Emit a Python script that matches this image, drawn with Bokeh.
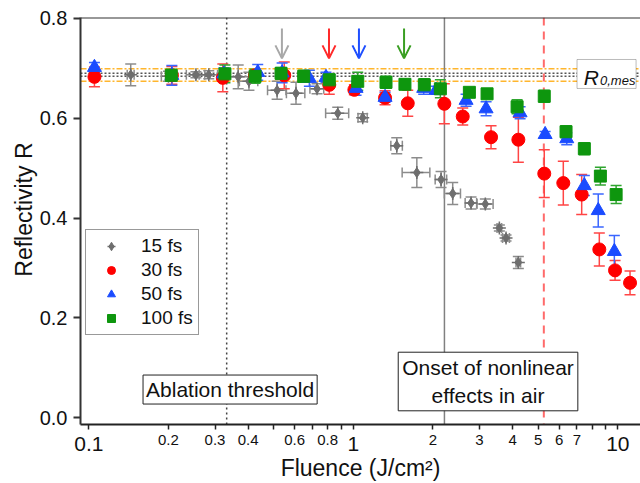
import math
from bokeh.plotting import figure
from bokeh.models import (Range1d, FixedTicker, Whisker, TeeHead, ColumnDataSource, Span,
                          Label, Arrow, OpenHead, Legend, LegendItem, BoxAnnotation,
                          PrintfTickFormatter, LogAxis, Title)
from bokeh.embed import file_html
from bokeh.resources import INLINE

FONT = "Liberation Sans"

# ---- data: fluence (J/cm^2), reflectivity and uncertainties ----
fs15_F = [0.144, 0.20, 0.254, 0.284, 0.367, 0.403, 0.515, 0.607, 0.729, 0.873, 1.085,
          1.459, 1.738, 2.146, 2.375, 2.786, 3.155, 3.565, 3.778, 4.205]
fs15_R = [0.687, 0.684, 0.687, 0.687, 0.683, 0.674, 0.656, 0.650, 0.659, 0.610, 0.601,
          0.545, 0.491, 0.477, 0.449, 0.430, 0.428, 0.380, 0.360, 0.311]
fs15_dR = [0.022, 0.010, 0.006, 0.008, 0.024, 0.018, 0.018, 0.022, 0.010, 0.012, 0.008,
           0.016, 0.030, 0.016, 0.022, 0.012, 0.010, 0.006, 0.006, 0.012]
fs15_dF_rel = [0.03, 0.06, 0.08, 0.08, 0.10, 0.08, 0.08, 0.08, 0.06, 0.10, 0.04,
               0.05, 0.12, 0.05, 0.07, 0.05, 0.07, 0.02, 0.03, 0.02]

fs30_F = [0.105, 0.206, 0.321, 0.425, 0.548, 0.811, 1.009, 1.318, 1.606, 2.208, 2.592,
          3.316, 4.206, 5.27, 6.22, 7.30, 8.51, 9.76, 11.12]
fs30_R = [0.683, 0.686, 0.681, 0.686, 0.686, 0.667, 0.657, 0.641, 0.630, 0.629, 0.6035,
          0.562, 0.557, 0.489, 0.470, 0.447, 0.337, 0.295, 0.270]
fs30_dR = [0.020, 0.018, 0.028, 0.010, 0.027, 0.019, 0.010, 0.014, 0.026, 0.040, 0.017,
           0.023, 0.045, 0.048, 0.044, 0.040, 0.033, 0.020, 0.024]

fs50_F = [0.105, 0.206, 0.324, 0.435, 0.538, 0.682, 0.788, 1.024, 1.318, 1.845, 2.054,
          2.668, 3.176, 4.27, 5.31, 6.41, 7.47, 8.43, 9.70]
fs50_R = [0.702, 0.686, 0.689, 0.692, 0.691, 0.680, 0.682, 0.660, 0.642, 0.660, 0.656,
          0.636, 0.619, 0.611, 0.5675, 0.559, 0.465, 0.415, 0.333]
fs50_dR = [0.010, 0.020, 0.012, 0.016, 0.020, 0.016, 0.010, 0.014, 0.010, 0.012, 0.008,
           0.012, 0.014, 0.012, 0.006, 0.012, 0.020, 0.033, 0.032]

fs100_F = [0.205, 0.327, 0.425, 0.533, 0.649, 0.811, 1.039, 1.329, 1.567, 1.855, 2.133,
           2.746, 3.203, 4.16, 5.27, 6.37, 7.47, 8.59, 9.85]
fs100_R = [0.686, 0.689, 0.684, 0.690, 0.684, 0.677, 0.674, 0.672, 0.668, 0.667, 0.659,
           0.652, 0.649, 0.623, 0.644, 0.573, 0.539, 0.484, 0.447]
fs100_dR = [0.012, 0.018, 0.014, 0.012, 0.012, 0.012, 0.018, 0.012, 0.010, 0.012, 0.018,
            0.008, 0.010, 0.014, 0.012, 0.012, 0.012, 0.018, 0.018]

# reference levels and markers
R0_mean_band = [0.699, 0.674]       # orange dash-dot band
R0_levels = [0.690, 0.684]          # gray dotted lines
ablation_F = 0.332
nonlinear_F = 2.21
red_limit_F = 5.25
arrow_F = [0.537, 0.809, 1.05, 1.555]
arrow_colors = ["#A8A8A8", "#FF2A2A", "#1F4FFF", "#3A9E22"]

# axis ticks
y_ticks = [0.0, 0.2, 0.4, 0.6, 0.8]
x_ticks = [0.1, 0.2, 0.3, 0.4, 0.5, 0.6, 0.7, 0.8, 0.9,
           1, 2, 3, 4, 5, 6, 7, 8, 9, 10]
x_small_labels = {0.2: "0.2", 0.3: "0.3", 0.4: "0.4", 0.6: "0.6", 0.8: "0.8",
                  2: "2", 3: "3", 4: "4", 5: "5", 6: "6", 7: "7"}
x_decades = [0.1, 1, 10]
x_decade_labels = ["0.1", "1", "10"]

p = figure(width=640, height=483, x_axis_type="log",
           x_range=Range1d(0.0930, 12.18), y_range=Range1d(-0.014, 0.802),
           output_backend="svg", toolbar_location=None,
           min_border_left=80, min_border_right=0, min_border_top=17, min_border_bottom=59)
p.outline_line_color = None
p.grid.visible = False
p.background_fill_color = "white"
p.border_fill_color = "white"

# y axis
ya = p.yaxis[0]
ya.ticker = FixedTicker(ticks=y_ticks)
ya.formatter = PrintfTickFormatter(format="%.1f")
ya.major_label_text_font = FONT
ya.major_label_text_font_size = "20px"
ya.major_label_text_color = "#111"
ya.major_tick_out = 7
ya.major_tick_in = 0
ya.major_tick_line_width = 2
ya.major_tick_line_color = "#333"
ya.minor_tick_line_color = None
ya.major_label_standoff = 6
ya.axis_line_width = 2
ya.axis_line_color = "#333"

# x axis: every tick, small labels on the intermediate values
xa = p.xaxis[0]
xa.ticker = FixedTicker(ticks=x_ticks, minor_ticks=[])
xa.major_label_overrides = {float(t): x_small_labels.get(t, "") for t in x_ticks}
xa.major_label_text_font = FONT
xa.major_label_text_font_size = "15px"
xa.major_label_text_color = "#111"
xa.major_tick_out = 5
xa.major_tick_in = 0
xa.major_tick_line_width = 1.5
xa.major_tick_line_color = "#222"
xa.minor_tick_line_color = None
xa.major_label_standoff = 5
xa.axis_line_width = 2
xa.axis_line_color = "#222"

# second bottom axis carrying the larger decade labels, pulled up onto the same row
xb = LogAxis(ticker=FixedTicker(ticks=x_decades, minor_ticks=[]),
             major_label_overrides={float(t): s for t, s in zip(x_decades, x_decade_labels)},
             major_label_text_font=FONT, major_label_text_font_size="21px",
             major_label_text_color="#111",
             axis_line_color=None, major_tick_line_color=None, minor_tick_line_color=None,
             major_label_standoff=-17,
             axis_label="Fluence (J/cm²)", axis_label_text_font=FONT,
             axis_label_text_font_size="23px", axis_label_text_font_style="normal",
             axis_label_text_color="#111", axis_label_standoff=1)
p.add_layout(xb, "below")

# vertical axis title
p.add_layout(Title(text="Reflectivity R", align="right", offset=125, text_font=FONT,
                   text_font_size="23px", text_font_style="normal", text_color="#111",
                   standoff=0), "left")

# top frame line
p.add_layout(Span(location=0.802, dimension="width", line_color="#333", line_width=2))

# reference lines
for lvl in R0_mean_band:
    p.add_layout(Span(location=lvl, dimension="width", line_color="#FFB62E",
                      line_dash="6 2 2 2", line_width=1.5, level="underlay"))
for lvl in R0_levels:
    p.add_layout(Span(location=lvl, dimension="width", line_color="#555555",
                      line_dash="2 2", line_width=1.5, level="underlay"))
p.add_layout(Span(location=ablation_F, dimension="height", line_color="#444444",
                  line_dash="2 3", line_width=1.5, level="underlay"))
p.add_layout(Span(location=nonlinear_F, dimension="height", line_color="#808080",
                  line_width=1.5, level="underlay"))
p.add_layout(Span(location=red_limit_F, dimension="height", line_color="#FF6A6A",
                  line_dash="8 6", line_width=2, level="underlay"))


def series(F, R, dR, err_color):
    src = ColumnDataSource(dict(F=F, R=R, lo=[r - d for r, d in zip(R, dR)],
                                hi=[r + d for r, d in zip(R, dR)]))
    p.add_layout(Whisker(source=src, base="F", lower="lo", upper="hi", dimension="height",
                         line_color=err_color, line_width=1.5,
                         lower_head=TeeHead(size=11, line_color=err_color, line_width=1.5),
                         upper_head=TeeHead(size=11, line_color=err_color, line_width=1.5)))
    return src


# 15 fs with horizontal error bars too
src15 = series(fs15_F, fs15_R, fs15_dR, "#8C8C8C")
src15.data["xlo"] = [f * (1 - d) for f, d in zip(fs15_F, fs15_dF_rel)]
src15.data["xhi"] = [f * (1 + d) for f, d in zip(fs15_F, fs15_dF_rel)]
p.add_layout(Whisker(source=src15, base="R", lower="xlo", upper="xhi", dimension="width",
                     line_color="#8C8C8C", line_width=1.5,
                     lower_head=TeeHead(size=10, line_color="#8C8C8C", line_width=1.5),
                     upper_head=TeeHead(size=10, line_color="#8C8C8C", line_width=1.5)))
r15a = p.scatter("F", "R", source=src15, marker="diamond", size=10, color="#6E6E6E")
r15b = p.scatter("F", "R", source=src15, marker="cross", size=13, line_color="#6E6E6E",
                 line_width=1.5)

src30 = series(fs30_F, fs30_R, fs30_dR, "#FF4545")
src50 = series(fs50_F, fs50_R, fs50_dR, "#3A66FF")
src100 = series(fs100_F, fs100_R, fs100_dR, "#2FA52F")

r30 = p.scatter("F", "R", source=src30, marker="circle", size=13, color="#FF0000")
r50 = p.scatter("F", "R", source=src50, marker="triangle", size=14, color="#1A4BFF")
r100 = p.scatter("F", "R", source=src100, marker="square", size=12, color="#0E960E")

# arrows marking the onset of reflectivity drop
for f, c in zip(arrow_F, arrow_colors):
    p.add_layout(Arrow(end=OpenHead(size=13, line_color=c, line_width=2),
                       x_start=f, y_start=0.780, x_end=f, y_end=0.720,
                       line_color=c, line_width=2))

# R0,mes box
p.add_layout(BoxAnnotation(left=7.01, right=11.72, bottom=0.6597, top=0.7178,
                           fill_color="white", fill_alpha=1, line_color="#222", line_width=1))
p.add_layout(Label(x=7.43, y=0.6823, text="R", text_font=FONT, text_font_style="italic",
                   text_font_size="21px", text_baseline="alphabetic", text_color="#111"))
p.add_layout(Label(x=8.56, y=0.6757, text="0,mes", text_font=FONT, text_font_style="italic",
                   text_font_size="13px", text_baseline="alphabetic", text_color="#111"))

# annotation boxes
p.add_layout(Label(x=0.342, y=0.0561, text="Ablation threshold", text_font=FONT,
                   text_font_size="21px", text_align="center", text_baseline="middle",
                   background_fill_color="white", border_line_color="#222",
                   border_line_width=1, padding=3, text_color="#111"))
p.add_layout(Label(x=3.23, y=0.0722, text="Onset of nonlinear\neffects in air", text_font=FONT,
                   text_font_size="21px", text_align="center", text_baseline="middle",
                   background_fill_color="white", border_line_color="#222",
                   border_line_width=1, padding=4, text_color="#111"))

legend = Legend(items=[LegendItem(label="15 fs", renderers=[r15a, r15b]),
                       LegendItem(label="30 fs", renderers=[r30]),
                       LegendItem(label="50 fs", renderers=[r50]),
                       LegendItem(label="100 fs", renderers=[r100])],
                location=(5, 89), margin=0, padding=5, spacing=2,
                label_height=20, glyph_height=20, glyph_width=40, label_standoff=10,
                label_text_font=FONT, label_text_font_size="19px", label_text_color="#111",
                border_line_color="#333", border_line_width=1,
                background_fill_color="white", background_fill_alpha=1)
p.add_layout(legend)

open("out.html", "w").write(file_html(p, INLINE))
